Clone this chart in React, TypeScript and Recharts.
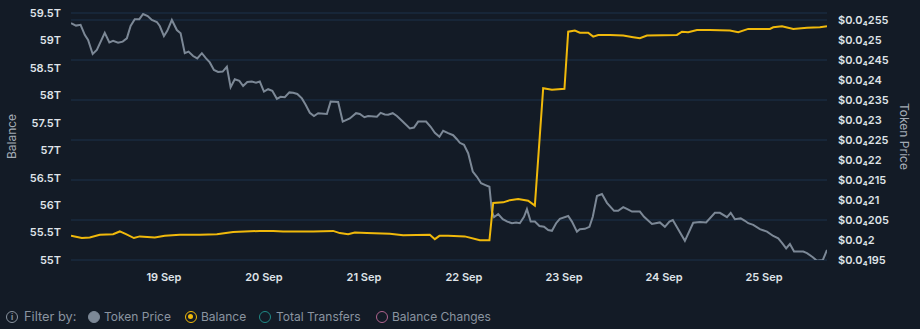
import React from 'react';
import { LineChart, Line, XAxis, YAxis, CartesianGrid } from 'recharts';

// hours since 18 Sep 00:00
const priceHours = [
  1.7, 2.9, 4.0, 5.0, 5.8, 6.9, 7.9, 9.8, 10.9, 11.8, 13.0, 14.1, 15.1, 16.0, 17.0, 18.1, 19.0, 20.1, 21.1, 22.3,
  23.0, 24.0, 24.8, 25.9, 27.1, 28.0, 29.0, 29.9, 31.0, 32.0, 33.1, 34.1, 35.0, 36.0, 37.0, 38.1, 39.1, 40.0, 41.0, 42.1,
  43.0, 44.0, 45.1, 46.1, 47.0, 48.0, 49.0, 50.0, 51.1, 52.0, 53.0, 54.1, 55.0, 56.0, 57.1, 58.0, 59.0, 60.0, 61.0, 63.1,
  64.0, 65.8, 66.9, 68.6, 70.1, 71.0, 72.1, 73.0, 75.1, 76.0, 77.0, 77.8, 78.9, 79.9, 81.1, 82.1, 83.0, 84.0, 85.0, 86.9,
  88.0, 89.0, 90.1, 91.0, 92.2, 93.4, 94.3, 95.0, 96.0, 97.0, 98.1, 99.1, 100.1, 101.0, 102.1, 102.7, 103.2, 104.2, 105.3, 106.4,
  107.5, 108.5, 109.4, 110.4, 111.1, 112.0, 113.0, 114.1, 115.2, 116.2, 117.1, 118.1, 119.0, 121.0, 121.9, 123.1, 123.8, 125.0, 126.1, 126.9,
  127.9, 129.1, 130.3, 132.0, 133.0, 134.2, 135.2, 136.3, 138.2, 139.2, 141.1, 143.0, 144.2, 145.3, 146.1, 149.0, 151.0, 152.6, 154.1, 156.2,
  157.4, 159.1, 160.0, 161.0, 162.4, 163.4, 164.2, 165.4, 167.0, 168.7, 170.2, 171.4, 172.3, 173.3, 174.2, 175.2, 177.4, 178.3, 179.7, 180.7,
  182.1, 183.1,
];

// token price, in millionths of a dollar
const priceValues = [
  25.42, 25.36, 25.38, 25.13, 25.0, 24.65, 24.75, 25.18, 24.94, 24.98, 24.93, 24.96, 25.04, 25.35, 25.52, 25.52, 25.65, 25.6, 25.5, 25.45,
  25.35, 25.1, 25.23, 25.5, 25.25, 25.17, 24.67, 24.71, 24.6, 24.54, 24.67, 24.54, 24.44, 24.25, 24.2, 24.21, 24.33, 23.82, 24.02, 23.98,
  23.85, 23.95, 23.96, 23.93, 23.96, 23.71, 23.77, 23.73, 23.53, 23.58, 23.57, 23.69, 23.68, 23.65, 23.54, 23.38, 23.18, 23.1, 23.17, 23.15,
  23.46, 23.45, 22.96, 23.04, 23.17, 23.15, 23.07, 23.1, 23.08, 23.18, 23.14, 23.13, 23.17, 23.1, 22.98, 22.88, 22.79, 22.81, 22.96, 22.96,
  22.83, 22.68, 22.58, 22.73, 22.67, 22.62, 22.52, 22.43, 22.38, 22.17, 21.71, 21.58, 21.42, 21.38, 21.33, 20.71, 20.57, 20.65, 20.52, 20.46,
  20.42, 20.44, 20.42, 20.58, 20.77, 20.46, 20.46, 20.35, 20.33, 20.25, 20.23, 20.42, 20.53, 20.6, 20.46, 20.21, 20.27, 20.28, 20.33, 20.58,
  21.1, 21.15, 20.93, 20.73, 20.73, 20.82, 20.77, 20.71, 20.71, 20.58, 20.4, 20.44, 20.33, 20.46, 20.5, 19.98, 20.43, 20.45, 20.44, 20.68,
  20.68, 20.57, 20.68, 20.52, 20.54, 20.48, 20.42, 20.38, 20.27, 20.21, 20.1, 20.04, 19.93, 19.79, 19.9, 19.71, 19.71, 19.67, 19.57, 19.48,
  19.5, 19.75,
];

const balanceHours = [
  1.7, 4.3, 6.2, 8.6, 11.8, 13.4, 14.9, 16.8, 18.2, 21.8, 24.2, 27.8, 32.6, 36.7, 40.6, 47.0, 50.2, 52.6, 56.6, 59.8,
  64.6, 66.2, 68.2, 69.8, 72.7, 78.2, 81.4, 87.8, 89.0, 90.1, 92.2, 96.2, 99.8, 102.1, 103.0, 105.4, 107.0, 109.0, 111.4, 113.0,
  115.0, 117.1, 120.1, 121.0, 122.6, 123.8, 125.8, 127.0, 128.2, 131.0, 134.2, 136.6, 138.2, 139.9, 147.1, 148.3, 149.8, 151.9, 155.0, 159.8,
  161.8, 164.2, 169.4, 170.2, 172.3, 175.0, 178.3, 181.4, 183.1,
];

// balance, in trillions of tokens
const balanceValues = [
  55.44, 55.4, 55.41, 55.46, 55.47, 55.52, 55.47, 55.4, 55.43, 55.41, 55.44, 55.46, 55.46, 55.47, 55.51, 55.53, 55.53, 55.52, 55.52, 55.52,
  55.53, 55.49, 55.47, 55.5, 55.49, 55.48, 55.45, 55.46, 55.38, 55.44, 55.44, 55.43, 55.36, 55.36, 56.04, 56.05, 56.09, 56.11, 56.08, 55.99,
  58.13, 58.1, 58.12, 59.16, 59.18, 59.14, 59.14, 59.07, 59.1, 59.1, 59.09, 59.06, 59.04, 59.09, 59.1, 59.16, 59.15, 59.19, 59.19, 59.18,
  59.15, 59.21, 59.21, 59.24, 59.26, 59.21, 59.23, 59.24, 59.26,
];

const dayTicks = [24, 48, 72, 96, 120, 144, 168];
const balanceTicks = [55, 55.5, 56, 56.5, 57, 57.5, 58, 58.5, 59, 59.5];
const priceTicks = [19.5, 20, 20.5, 21, 21.5, 22, 22.5, 23, 23.5, 24, 24.5, 25, 25.5];

const legendItems = ['Token Price', 'Balance', 'Total Transfers', 'Balance Changes'];

const priceData = priceHours.map((h, i) => ({ h, price: priceValues[i] }));
const balanceData = balanceHours.map((h, i) => ({ h, balance: balanceValues[i] }));

const BG = '#131b26';
const FONT = 'Inter, "Noto Sans", sans-serif';
const TICK = { fill: '#dfe3e8', fontSize: 11, fontWeight: 600, fontFamily: FONT };

const fmtPrice = (v: number) => {
  const digits = parseFloat((v / 10).toFixed(4)).toString().replace('.', '');
  return `$0.0\u2084${digits}`;
};
const fmtDay = (v: number) => `${18 + Math.round(v / 24)} Sep`;

const LegendDot = ({ color, filled, inner, left }: { color: string; filled?: boolean; inner?: boolean; left: number }) => (
  <span
    style={{
      position: 'absolute',
      left,
      top: 3,
      boxSizing: 'border-box',
      width: 12,
      height: 12,
      borderRadius: '50%',
      border: `1.5px solid ${color}`,
      background: filled ? color : 'transparent',
    }}
  >
    {inner && (
      <span
        style={{
          position: 'absolute',
          left: 2,
          top: 2,
          width: 5,
          height: 5,
          borderRadius: '50%',
          background: color,
        }}
      />
    )}
  </span>
);

const LegendText = ({ left, children }: { left: number; children: React.ReactNode }) => (
  <span style={{ position: 'absolute', left, top: 0, lineHeight: '18px' }}>{children}</span>
);

export default function App() {
  return (
    <div
      style={{
        position: 'absolute',
        left: 0,
        top: 0,
        width: 920,
        height: 329,
        background: BG,
        overflow: 'hidden',
        fontFamily: FONT,
      }}
    >
      <LineChart width={920} height={290} margin={{ top: 13, right: 0, left: 0, bottom: 0 }}>
        <CartesianGrid yAxisId="right" vertical={false} stroke="#1c324a" strokeWidth={1} />
        <XAxis
          dataKey="h"
          type="number"
          domain={[1.7, 183.1]}
          allowDataOverflow
          ticks={dayTicks}
          tickFormatter={fmtDay}
          axisLine={false}
          tickLine={false}
          tick={TICK}
          tickMargin={7}
          height={30}
        />
        <YAxis
          yAxisId="left"
          orientation="left"
          width={71}
          domain={[55, 59.5]}
          ticks={balanceTicks}
          allowDataOverflow
          tickFormatter={(v: number) => `${v}T`}
          axisLine={false}
          tickLine={false}
          tick={TICK}
          tickMargin={4}
          label={{
            value: 'Balance',
            angle: -90,
            position: 'insideLeft',
            offset: 12,
            style: { textAnchor: 'middle', fill: '#a3abb5', fontSize: 12, fontFamily: FONT },
          }}
        />
        <YAxis
          yAxisId="right"
          orientation="right"
          width={93}
          domain={[19.5, 25.675]}
          ticks={priceTicks}
          allowDataOverflow
          tickFormatter={fmtPrice}
          axisLine={false}
          tickLine={false}
          tick={{ ...TICK, textAnchor: 'start' }}
          tickMargin={5}
          label={{
            value: 'Token Price',
            angle: 90,
            position: 'insideRight',
            offset: 16,
            style: { textAnchor: 'middle', fill: '#a3abb5', fontSize: 12, fontFamily: FONT },
          }}
        />
        <Line
          yAxisId="right"
          data={priceData}
          dataKey="price"
          type="linear"
          stroke="#7c8896"
          strokeWidth={2}
          dot={false}
          isAnimationActive={false}
        />
        <Line
          yAxisId="left"
          data={balanceData}
          dataKey="balance"
          type="linear"
          stroke="#f0b90b"
          strokeWidth={2}
          dot={false}
          isAnimationActive={false}
        />
      </LineChart>
      <div
        style={{
          position: 'absolute',
          left: 0,
          top: 308,
          width: 920,
          height: 18,
          color: '#8a94a0',
          fontSize: 12,
          whiteSpace: 'nowrap',
        }}
      >
        <span
          style={{
            position: 'absolute',
            left: 6,
            top: 3,
            display: 'flex',
            alignItems: 'center',
            justifyContent: 'center',
            boxSizing: 'border-box',
            width: 12,
            height: 12,
            borderRadius: '50%',
            border: '1.2px solid #8a94a0',
            fontSize: 8,
            fontWeight: 700,
            lineHeight: 1,
          }}
        >
          i
        </span>
        <span style={{ position: 'absolute', left: 24, top: 0, lineHeight: '18px', fontSize: 12.8 }}>Filter by:</span>
        <LegendDot left={88} color="#7c8896" filled />
        <LegendText left={104}>{legendItems[0]}</LegendText>
        <LegendDot left={185} color="#f0b90b" inner />
        <LegendText left={201}>{legendItems[1]}</LegendText>
        <LegendDot left={259} color="#1f8a86" />
        <LegendText left={276}>{legendItems[2]}</LegendText>
        <LegendDot left={376} color="#b0648f" />
        <LegendText left={392}>{legendItems[3]}</LegendText>
      </div>
    </div>
  );
}
